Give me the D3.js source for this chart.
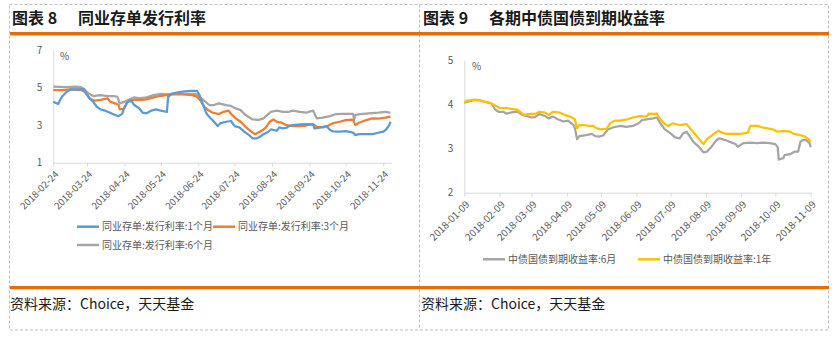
<!DOCTYPE html>
<html>
<head>
<meta charset="utf-8">
<script src="https://cdn.jsdelivr.net/npm/d3@7"></script>
<style>
  body { margin: 0; background: #fff; }
  svg text { font-family: "Noto Sans CJK SC", "Liberation Sans", sans-serif; }
</style>
</head>
<body>
<svg id="chart" width="837" height="339"></svg>
<script>
// ---------- 图表 8：同业存单发行利率 (%) ----------
const ncdDates1M = ["2018-02-24","2018-02-28","2018-03-03","2018-03-07","2018-03-10","2018-03-21","2018-03-22","2018-03-26","2018-03-29","2018-04-01","2018-04-04","2018-04-08","2018-04-12","2018-04-16","2018-04-19","2018-04-22","2018-04-23","2018-04-26","2018-04-28","2018-04-30","2018-05-02","2018-05-06","2018-05-09","2018-05-12","2018-05-16","2018-05-20","2018-05-24","2018-05-29","2018-05-30","2018-06-02","2018-06-06","2018-06-11","2018-06-17","2018-06-23","2018-06-25","2018-06-28","2018-07-01","2018-07-03","2018-07-07","2018-07-10","2018-07-12","2018-07-17","2018-07-21","2018-07-24","2018-07-28","2018-08-01","2018-08-05","2018-08-08","2018-08-11","2018-08-14","2018-08-17","2018-08-21","2018-08-23","2018-08-28","2018-08-30","2018-09-02","2018-09-05","2018-09-07","2018-09-10","2018-09-16","2018-09-21","2018-09-27","2018-09-28","2018-10-02","2018-10-08","2018-10-11","2018-10-13","2018-10-19","2018-10-24","2018-10-30","2018-11-01","2018-11-04","2018-11-10","2018-11-15","2018-11-19","2018-11-24","2018-11-26","2018-11-29","2018-11-30"];
const ncdRate1M = [4.25,4.12,4.5,4.78,4.9,4.92,4.78,4.42,4.25,3.98,3.84,3.77,3.66,3.54,3.48,3.6,3.8,4.2,4.28,4.26,4.07,3.9,3.66,3.63,3.77,3.84,3.77,3.7,4.5,4.66,4.73,4.78,4.83,4.82,4.6,4.07,3.59,3.45,3.18,2.95,3.09,3.18,3.22,2.95,2.88,2.65,2.47,2.29,2.29,2.38,2.52,2.65,2.77,2.7,2.88,2.83,2.86,2.95,3.0,3.04,3.05,3.04,2.83,2.86,2.95,2.74,2.67,2.65,2.68,2.6,2.47,2.52,2.52,2.52,2.58,2.65,2.74,3.0,3.18];

const ncdDates3M = ["2018-02-24","2018-03-03","2018-03-10","2018-03-19","2018-03-22","2018-03-26","2018-03-30","2018-04-04","2018-04-10","2018-04-12","2018-04-16","2018-04-19","2018-04-20","2018-04-23","2018-04-25","2018-04-27","2018-05-02","2018-05-08","2018-05-12","2018-05-18","2018-05-23","2018-05-28","2018-06-03","2018-06-11","2018-06-19","2018-06-23","2018-06-26","2018-06-29","2018-07-02","2018-07-06","2018-07-11","2018-07-15","2018-07-19","2018-07-22","2018-07-25","2018-07-29","2018-08-02","2018-08-07","2018-08-10","2018-08-13","2018-08-17","2018-08-19","2018-08-22","2018-08-25","2018-08-28","2018-09-01","2018-09-05","2018-09-10","2018-09-16","2018-09-21","2018-09-27","2018-09-30","2018-10-05","2018-10-09","2018-10-13","2018-10-19","2018-10-24","2018-10-30","2018-11-01","2018-11-04","2018-11-10","2018-11-15","2018-11-20","2018-11-26","2018-11-30"];
const ncdRate3M = [4.87,4.87,4.9,4.87,4.78,4.42,4.3,4.34,4.42,4.25,4.16,4.07,3.84,3.86,4.07,4.3,4.34,4.34,4.37,4.48,4.55,4.6,4.64,4.64,4.6,4.51,4.28,3.98,3.8,3.66,3.59,3.71,3.77,3.54,3.36,3.18,2.91,2.65,2.52,2.62,2.77,2.88,3.18,3.3,3.18,3.13,3.0,2.95,2.95,2.98,3.05,2.91,2.88,2.95,3.09,3.18,3.27,3.29,3.0,3.13,3.27,3.36,3.35,3.4,3.45];

const ncdDates6M = ["2018-02-24","2018-03-07","2018-03-15","2018-03-19","2018-03-22","2018-03-25","2018-03-29","2018-04-04","2018-04-10","2018-04-15","2018-04-18","2018-04-20","2018-04-24","2018-04-28","2018-05-02","2018-05-06","2018-05-12","2018-05-18","2018-05-24","2018-05-28","2018-06-06","2018-06-14","2018-06-22","2018-06-25","2018-06-29","2018-07-03","2018-07-07","2018-07-11","2018-07-17","2018-07-21","2018-07-25","2018-07-29","2018-08-02","2018-08-08","2018-08-13","2018-08-17","2018-08-19","2018-08-23","2018-08-28","2018-09-02","2018-09-07","2018-09-10","2018-09-16","2018-09-21","2018-09-27","2018-09-30","2018-10-05","2018-10-11","2018-10-16","2018-10-21","2018-10-30","2018-10-31","2018-11-01","2018-11-07","2018-11-12","2018-11-20","2018-11-26","2018-11-30"];
const ncdRate6M = [5.05,5.02,5.05,5.02,4.9,4.69,4.55,4.6,4.55,4.55,4.51,4.16,4.25,4.37,4.48,4.42,4.48,4.6,4.66,4.64,4.69,4.66,4.66,4.48,4.3,4.07,4.07,4.16,4.07,4.02,3.89,3.8,3.54,3.3,3.28,3.36,3.48,3.71,3.77,3.71,3.71,3.77,3.71,3.66,3.77,3.36,3.4,3.48,3.59,3.6,3.6,3.3,3.55,3.6,3.63,3.66,3.71,3.66];

const ncdTicks = ["2018-02-24","2018-03-24","2018-04-24","2018-05-24","2018-06-24","2018-07-24","2018-08-24","2018-09-24","2018-10-24","2018-11-24"];
const ncdYTicks = [1, 3, 5, 7];

// ---------- 图表 9：各期中债国债到期收益率 (%) ----------
const bondDates1Y = ["2018-01-09","2018-01-11","2018-01-17","2018-01-21","2018-01-24","2018-01-29","2018-02-02","2018-02-05","2018-02-09","2018-02-15","2018-02-21","2018-02-24","2018-02-27","2018-03-02","2018-03-08","2018-03-12","2018-03-16","2018-03-21","2018-03-24","2018-03-28","2018-04-03","2018-04-07","2018-04-12","2018-04-16","2018-04-18","2018-04-20","2018-04-25","2018-04-28","2018-05-02","2018-05-05","2018-05-09","2018-05-14","2018-05-17","2018-05-21","2018-05-26","2018-06-01","2018-06-06","2018-06-12","2018-06-18","2018-06-20","2018-06-24","2018-06-27","2018-06-28","2018-07-03","2018-07-07","2018-07-11","2018-07-17","2018-07-23","2018-07-26","2018-08-01","2018-08-05","2018-08-07","2018-08-10","2018-08-16","2018-08-20","2018-08-23","2018-08-27","2018-09-02","2018-09-08","2018-09-15","2018-09-17","2018-09-23","2018-09-27","2018-10-01","2018-10-07","2018-10-11","2018-10-16","2018-10-22","2018-10-25","2018-10-31","2018-11-04","2018-11-07","2018-11-09"];
const bondYield1Y = [4.02,4.08,4.1,4.1,4.07,4.05,4.02,3.97,3.92,3.91,3.89,3.88,3.83,3.76,3.78,3.78,3.83,3.81,3.76,3.83,3.81,3.76,3.72,3.66,3.46,3.53,3.53,3.51,3.51,3.46,3.43,3.45,3.57,3.63,3.63,3.66,3.7,3.73,3.72,3.79,3.78,3.79,3.73,3.57,3.51,3.57,3.53,3.55,3.46,3.28,3.15,3.1,3.21,3.33,3.4,3.36,3.33,3.33,3.33,3.36,3.51,3.51,3.48,3.46,3.43,3.38,3.4,3.38,3.33,3.3,3.27,3.21,3.15];

const bondDates6M = ["2018-01-09","2018-01-12","2018-01-18","2018-01-23","2018-01-29","2018-02-02","2018-02-05","2018-02-08","2018-02-12","2018-02-15","2018-02-21","2018-02-25","2018-03-01","2018-03-05","2018-03-09","2018-03-12","2018-03-16","2018-03-21","2018-03-24","2018-03-28","2018-04-01","2018-04-06","2018-04-10","2018-04-15","2018-04-16","2018-04-18","2018-04-20","2018-04-26","2018-05-01","2018-05-04","2018-05-08","2018-05-11","2018-05-15","2018-05-20","2018-05-26","2018-05-31","2018-06-06","2018-06-11","2018-06-14","2018-06-18","2018-06-24","2018-06-27","2018-06-30","2018-07-04","2018-07-09","2018-07-13","2018-07-17","2018-07-20","2018-07-23","2018-07-26","2018-07-29","2018-08-02","2018-08-07","2018-08-10","2018-08-14","2018-08-18","2018-08-21","2018-08-26","2018-08-30","2018-09-04","2018-09-06","2018-09-11","2018-09-17","2018-09-23","2018-09-28","2018-10-04","2018-10-09","2018-10-11","2018-10-12","2018-10-16","2018-10-17","2018-10-22","2018-10-26","2018-10-29","2018-10-31","2018-11-02","2018-11-05","2018-11-08","2018-11-09"];
const bondYield6M = [4.04,4.06,4.1,4.09,4.04,4.01,3.88,3.83,3.83,3.79,3.82,3.83,3.76,3.73,3.7,3.71,3.78,3.73,3.68,3.72,3.66,3.61,3.63,3.53,3.46,3.21,3.28,3.3,3.33,3.28,3.27,3.3,3.43,3.48,3.51,3.49,3.51,3.57,3.64,3.66,3.68,3.7,3.57,3.43,3.34,3.25,3.23,3.34,3.38,3.27,3.15,3.06,2.91,2.93,3.04,3.18,3.23,3.19,3.15,3.1,3.04,3.12,3.13,3.12,3.13,3.12,3.1,3.03,2.75,2.78,2.85,2.87,2.93,2.93,3.15,3.19,3.19,3.12,3.03];

const bondTicks = ["2018-01-09","2018-02-09","2018-03-09","2018-04-09","2018-05-09","2018-06-09","2018-07-09","2018-08-09","2018-09-09","2018-10-09","2018-11-09"];
const bondYTicks = [2, 3, 4, 5];

// ---------- drawing ----------
const parse = d3.timeParse("%Y-%m-%d");
const fmt = d3.timeFormat("%Y-%m-%d");
const svg = d3.select("#chart");
const ACCENT = "#E46C0A";
const BORDER = "#BFBFBF";
const LABEL = "#595959";

// frame: dashed outline, divider, orange rules
svg.append("rect").attr("x", 9.5).attr("y", 4.5).attr("width", 819).attr("height", 325.5)
  .attr("fill", "none").attr("stroke", BORDER).attr("stroke-dasharray", "3,2");
svg.append("line").attr("x1", 419.5).attr("x2", 419.5).attr("y1", 4.5).attr("y2", 330)
  .attr("stroke", BORDER).attr("stroke-dasharray", "3,2");
svg.append("rect").attr("x", 10).attr("y", 32).attr("width", 819).attr("height", 3.5).attr("fill", ACCENT);
svg.append("rect").attr("x", 10).attr("y", 286).attr("width", 819).attr("height", 3.3).attr("fill", ACCENT);

function title(x, num, text) {
  const t = svg.append("g").attr("font-weight", 700).attr("font-size", 16).attr("fill", "#1a1a1a");
  t.append("text").attr("x", x).attr("y", 24).text("图表 " + num);
  t.append("text").attr("x", x + 66).attr("y", 24).text(text);
}
title(12, 8, "同业存单发行利率");
title(423, 9, "各期中债国债到期收益率");

["资料来源：Choice，天天基金", "资料来源：Choice，天天基金"].forEach((s, i) => {
  svg.append("text").attr("x", i ? 421 : 10).attr("y", 308.5)
    .attr("font-size", 14).attr("fill", "#1a1a1a").text(s);
});

function panel(cfg) {
  const x = d3.scaleTime().domain(cfg.xDomain.map(parse)).range(cfg.xRange);
  const y = d3.scaleLinear().domain(cfg.yDomain).range(cfg.yRange);
  const g = svg.append("g");

  // y axis
  const ya = g.append("g").attr("transform", `translate(${cfg.xRange[0]},0)`)
    .call(d3.axisLeft(y).tickValues(cfg.yTicks).tickSize(0).tickPadding(11).tickFormat(d3.format("d")));
  ya.select(".domain").attr("stroke", "#D9D9D9");
  ya.selectAll("text").attr("fill", LABEL).attr("font-size", 10).attr("font-family", "Liberation Sans, sans-serif");

  // x axis
  const xa = g.append("g").attr("transform", `translate(0,${cfg.yRange[0]})`)
    .call(d3.axisBottom(x).tickValues(cfg.xTicks.map(parse)).tickSizeInner(4).tickSizeOuter(0).tickFormat(fmt));
  xa.select(".domain").attr("stroke", "#D9D9D9");
  xa.selectAll(".tick line").attr("stroke", "#D9D9D9");
  xa.selectAll("text")
    .attr("fill", LABEL).attr("font-size", cfg.xFont).attr("font-family", "Liberation Sans, sans-serif")
    .attr("text-anchor", "end").attr("dy", "0.35em").attr("y", 0).attr("x", 0)
    .attr("transform", "translate(3,10) rotate(-45)");

  // unit
  g.append("text").attr("x", cfg.unitPos[0]).attr("y", cfg.unitPos[1])
    .attr("font-size", 10).attr("fill", LABEL).attr("font-family", "Liberation Sans, sans-serif").text("%");

  // lines
  const line = d3.line().x(d => x(d[0])).y(d => y(d[1]));
  cfg.series.forEach(s => {
    const pts = s.dates.map((d, i) => [parse(d), s.values[i]]);
    g.append("path").datum(pts).attr("d", line).attr("fill", "none")
      .attr("stroke", s.color).attr("stroke-width", 2.25).attr("stroke-linejoin", "round");
  });

  // legend
  cfg.series.forEach(s => {
    const [lx, ly] = s.legend;
    g.append("line").attr("x1", lx).attr("x2", lx + 22).attr("y1", ly).attr("y2", ly)
      .attr("stroke", s.color).attr("stroke-width", 2.5);
    g.append("text").attr("x", lx + 25).attr("y", ly).attr("dy", "0.35em")
      .attr("font-size", 10).attr("fill", LABEL).text(s.name);
  });
}

panel({
  xDomain: ["2018-02-24", "2018-12-01"], xRange: [53.3, 391.7],
  yDomain: [1, 7], yRange: [162.7, 50],
  xTicks: ncdTicks, yTicks: ncdYTicks, xFont: 9.6, unitPos: [60, 60],
  series: [
    { name: "同业存单:发行利率:6个月", dates: ncdDates6M, values: ncdRate6M, color: "#A5A5A5", legend: [77, 245] },
    { name: "同业存单:发行利率:3个月", dates: ncdDates3M, values: ncdRate3M, color: "#ED7D31", legend: [213, 226.7] },
    { name: "同业存单:发行利率:1个月", dates: ncdDates1M, values: ncdRate1M, color: "#5B9BD5", legend: [77, 226.7] }
  ]
});

panel({
  xDomain: ["2018-01-09", "2018-11-09"], xRange: [464.3, 810.7],
  yDomain: [2, 5], yRange: [192.7, 60],
  xTicks: bondTicks, yTicks: bondYTicks, xFont: 10, unitPos: [472, 70],
  series: [
    { name: "中债国债到期收益率:6月", dates: bondDates6M, values: bondYield6M, color: "#A5A5A5", legend: [483, 259.3] },
    { name: "中债国债到期收益率:1年", dates: bondDates1Y, values: bondYield1Y, color: "#FFC000", legend: [638, 259.3] }
  ]
});
</script>
</body>
</html>
